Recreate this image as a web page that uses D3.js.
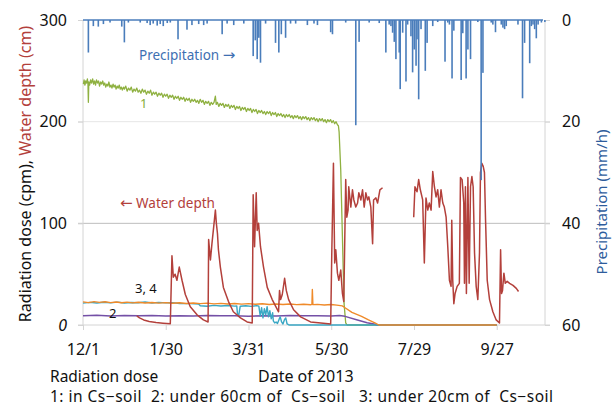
<!DOCTYPE html>
<html>
<head>
<meta charset="utf-8">
<script src="https://cdn.jsdelivr.net/npm/d3@7"></script>
<style>
  body { margin: 0; background: #fff; }
  text { font-family: "Noto Sans", "Liberation Sans", sans-serif; }
</style>
</head>
<body>
<div id="chart"></div>
<script>
// days are counted from 2012-12-01
var startDate = Date.UTC(2012, 11, 1);
var endDate = Date.UTC(2013, 10, 1);
var dateTicks = [0, 60, 120, 180, 240, 300];
var dateLabels = ["12/1", "1/30", "3/31", "5/30", "7/29", "9/27"];
var leftTicks = [0, 100, 200, 300];
var rightTicks = [0, 20, 40, 60];

// precipitation (mm/h): [day, value]
var precipitation = [
  [3.9,6.4],[7.5,1.2],[11.1,1.3],[14.8,0.8],[19.6,0.5],[28.1,1.3],[30,4.4],[32.9,0.5],[41.5,0.5],
  [46.5,0.6],[48.7,1.0],[50.9,0.7],[53.8,1.1],[56,0.8],[58.2,1.2],[61.1,0.6],[63.3,0.5],[68.9,3.8],
  [75.4,1.9],[79,1.0],[83.9,0.8],[87.5,1.0],[90,0.7],[100.9,2.8],[104.5,0.7],[109.3,1.0],[116.6,0.7],
  [123.4,7.1],[124.9,4.0],[126.3,7.7],[127.5,3.5],[128.7,8.4],[132.4,0.7],[139.6,4.5],[142,6.4],
  [143.8,2.8],[146.9,3.5],[150.5,0.7],[154.2,0.7],[162.7,1.0],[167.5,0.7],[170,1.0],[179.6,2.4],
  [180.9,2.8],[190.5,0.5],[197.8,20.7],[200.2,4.3],[207.5,0.5],[214.8,0.6],[219.6,6.4],[222,0.9],
  [223.3,1.2],[224.5,2.5],[225.7,4.3],[226.9,7.7],[229.3,6.4],[230,13.6],[231.8,2.5],[234.2,12.1],
  [235.4,0.9],[237.8,3.2],[239,10.3],[240.2,5.8],[241.5,9.0],[242.2,3.8],[243.4,15.6],[245.1,1.8],
  [248.2,10.0],[249.5,4.5],[253.6,1.2],[257.2,0.4],[262.5,8.2],[264.5,0.5],[265.7,0.9],[267.6,11.5],
  [268.9,2.1],[274.2,11.8],[275.4,2.6],[277.8,11.5],[279.1,5.8],[281,7.7],[286.3,0.4],[288.7,31.5],
  [290,10.4],[296,0.5],[297.2,0.9],[299.1,2.4],[303.3,0.9],[304.5,1.5],[305.7,1.8],[306.9,1.2],
  [315.4,0.9],[318.7,15.4],[320.2,4.5],[323.9,8.5],[325.1,1.2],[326.3,0.9],[327.5,1.8],[328.7,3.6],
  [330,0.9],[332.4,0.5],[334.9,0.4]
];

// 1: in Cs-soil (cpm)
var dose1 = [
  [0.3,237],[0.8,241],[1.4,236],[2,240],[2.6,238],[3.2,242],[3.6,237],[3.9,219],[4.2,239],[4.8,236],
  [5.5,241],[6.2,238],[7,242],[7.7,237],[8.4,240],[9.1,236],[9.8,241],[10.6,238],[11.3,240],[12,235],
  [12.8,239],[13.5,237],[14.3,240],[15,236],[15.8,238],[16.5,234],[17.3,237],[18,235],[18.8,239],
  [19.5,234],[20.3,236],[21,233],[21.8,237],[22.5,234],[23.3,236],[24,232],[24.8,235],[25.5,233],
  [26.3,236],[27,232],[27.8,234],[28.5,231],[29.3,234],[30,232],[31,235],[32,230],[33,233],[34,231],
  [35,234],[36,229],[37,232],[38,230],[39,233],[40,229],[41,231],[42,228],[43,232],[44,229],[45,231],
  [46,227],[47,230],[48,228],[49,231],[50,226],[51,229],[52,227],[53,229],[54,225],[55,228],[56,226],
  [57,228],[58,224],[59,227],[60,225],[61,227],[62,223],[63,226],[64,224],[65,226],[66,222],[67,225],
  [68,223],[69,225],[70,221],[71,224],[72,222],[73,224],[74,220],[75,223],[76,221],[77,223],[78,219],
  [79,222],[80,220],[81,222],[82,219],[83,221],[84,218],[85,222],[86,219],[87,221],[88,217],[89,220],
  [90,218],[91,220],[92,216],[93,219],[94,217],[95,219],[96,225],[96.6,217],[97.5,219],[98.5,215],
  [99.5,218],[100.5,216],[101.5,218],[102.5,214],[103.5,217],[104.5,215],[105.5,217],[106.5,213],
  [107.5,216],[108.5,214],[109.5,216],[110.5,212],[111.5,215],[112.5,213],[113.5,215],[114.5,211],
  [115.5,214],[116.5,212],[117.5,214],[118.5,210],[119.5,213],[120.5,211],[121.5,213],[122.5,209],
  [123.5,212],[124.5,210],[125.5,212],[126.5,208],[127.5,211],[128.5,209],[129.5,211],[130.5,208],
  [131.5,210],[132.5,207],[133.5,210],[134.5,208],[135.5,210],[136.5,206],[137.5,209],[138.5,207],
  [139.5,209],[140.5,205],[141.5,208],[142.5,206],[143.5,208],[144.5,205],[145.5,207],[146.5,204],
  [147.5,207],[148.5,205],[149.5,207],[150.5,204],[151.5,206],[152.5,203],[153.5,206],[154.5,204],
  [155.5,206],[156.5,203],[157.5,205],[158.5,202],[159.5,205],[160.5,203],[161.5,205],[162.5,202],
  [163.5,204],[164.5,201],[165.5,204],[166.5,202],[167.5,204],[168.5,201],[169.5,203],[170.5,200],
  [171.5,203],[172.5,201],[173.5,203],[174.5,200],[175.5,202],[176.5,199],[177.5,202],[178.5,200],
  [179.5,202],[180.5,199],[181.5,201],[182.5,198],[183.5,200],[184.5,197],[185.2,196],[185.7,190],
  [186.9,152],[188.1,87],[189.3,21],[190.5,2],[191.5,0],[300,0]
];

// 2: under 60cm of Cs-soil
var dose2 = [
  [0,9],[10,9.5],[20,8.8],[30,9.3],[40,9],[50,9.4],[60,8.9],[70,9.2],[80,8.8],[90,9.3],[100,9],
  [110,9.2],[120,8.7],[130,9.1],[140,8.9],[150,9.3],[160,9],[170,9.2],[180,8.8],[186,9.3],[190,8.5],
  [199,5],[206,2.3],[211,1],[213,0],[300,0]
];

// 3: under 20cm of Cs-soil
var dose3 = [
  [0,21.5],[5,22.3],[10,21.6],[15,22.4],[20,21.8],[25,22.5],[30,21.7],[35,22.2],[40,21.9],[45,22.6],
  [50,21.7],[55,22.3],[60,21.8],[65,22],[70,21.2],[78,21],[84,20.5],[85,19],[90,18.5],[95,19.3],
  [100,18.7],[105,19.2],[110,18.6],[111.5,18.8],[112,11],[113,10],[114,18.5],[118,19],[122,18.3],
  [126,19.1],[127.5,18.5],[128.5,9],[129.5,17],[130.5,7],[131.5,16],[132.5,10],[133.5,18],[134.5,8],
  [135.5,14],[136.5,6],[137.5,12],[138,4],[139,2],[140,3],[141,1.5],[142.3,6],[143,8],[144,3],[145,1],
  [146,5],[147,7],[148,1],[149,0.3],[150,0],[300,0]
];

// 4
var dose4 = [
  [0,22.8],[4,22],[8,23],[12,22.2],[16,22.9],[20,22],[24,22.6],[28,21.9],[32,22.5],[36,21.8],[40,22.4],
  [45,21.7],[50,22.2],[55,21.5],[60,22],[65,21.4],[70,21.9],[75,21.2],[80,21.6],[85,21],[90,21.5],
  [95,20.8],[100,21.3],[105,20.7],[110,21.1],[115,20.5],[120,21],[125,20.4],[130,20.9],[135,20.2],
  [140,20.7],[145,20.1],[150,20.6],[155,20],[160,20.4],[165,19.9],[166,20.3],[166.3,35],[166.7,20],
  [170,20.3],[175,19.7],[180,20.1],[184,19.6],[188,18.8],[190,17],[195,12.5],[202,8.5],[207,5],
  [212,1.8],[214.5,0],[300,0]
];

// water depth (cm), two logging periods
var waterDepthA = [
  [39,9],[41,7],[44,5],[48,3.5],[53,2.5],[58,1.8],[63.3,1.2],[64.5,68],[65.5,47],[66.8,50],[68.1,44],
  [69.8,57],[71.8,44],[74.2,30],[77.8,18],[82.7,10],[87.3,5],[90.7,3],[91.1,84],[92.4,64],[93.5,80],
  [94.8,97],[96,113],[96.7,100],[97.5,90],[98.2,74],[99.6,57],[101.8,37],[105.5,23],[109,13],
  [114.2,7],[119,3],[122.7,2],[123.4,128],[124.4,77],[125.6,130],[126.3,93],[127.3,100],[128.7,77],
  [130.9,57],[133.6,37],[137.2,25],[141.8,13],[142.5,34],[143.3,25],[144.5,30],[146.2,46],[147.4,34],
  [149.1,25],[152.7,15],[157.8,8],[165,3],[172.4,2],[179.6,1],[180.4,71],[181.6,159],[182.5,61],
  [183.3,74],[184.5,51],[185.5,44],[186.9,54],[188.1,31],[189.1,23],[190.5,143],[191.3,106],
  [192.2,113],[192.7,136],[194.2,116],[195.4,133],[196.4,123],[197.8,116],[199.1,120],[200,130],
  [201.5,123],[202.7,133],[203.9,116],[205.1,130],[206.3,123],[207.3,126],[208.7,116],[210,80],
  [210.7,123],[212.4,125],[213.6,120],[215.3,133],[217.2,135]
];
var waterDepthB = [
  [239.8,106],[240.7,136],[242.2,131],[243.4,143],[244.6,133],[246.3,123],[247.5,61],[248.7,125],
  [250,113],[251.1,120],[252.4,113],[253.6,151],[254.8,136],[256,126],[257.2,133],[258.4,116],
  [259.6,133],[260.9,120],[262,116],[263.3,106],[264.5,77],[265.7,44],[266.9,38],[267.4,103],
  [268.1,44],[268.9,21],[269.8,31],[271.3,38],[272.9,41],[273.7,145],[274.9,143],[276.1,120],
  [276.6,41],[277.3,136],[278,31],[279.1,145],[280,41],[281,136],[282,146],[282.9,136],[283.9,71],
  [285.1,38],[286.3,25],[287.5,71],[288.2,150],[289.2,159],[290.2,156],[291.1,150],[291.9,103],
  [293.1,44],[294.8,25],[297.2,13],[299.6,5],[302,2],[302.8,74],[303.5,31],[304.2,34],[305.2,51],
  [306.2,41],[307.6,43],[309.3,41],[311.8,39],[314.2,36],[315.8,33]
];

var width = 613, height = 406;
var plot = {left: 83, right: 545, top: 20, bottom: 325};

var svg = d3.select("#chart").append("svg")
  .attr("width", width)
  .attr("height", height)
  .style("display", "block");

var day = d => new Date(startDate + d * 864e5);

var x = d3.scaleUtc().domain([new Date(startDate), new Date(endDate)]).range([plot.left, plot.right]);
var yL = d3.scaleLinear().domain([0, 300]).range([plot.bottom, plot.top]);
var yR = d3.scaleLinear().domain([0, 60]).range([plot.top, plot.bottom]);

// gridlines
svg.append("line")
  .attr("x1", plot.left - 5).attr("x2", plot.right + 5)
  .attr("y1", yL(200)).attr("y2", yL(200))
  .attr("stroke", "#e6e6e6");
svg.append("line")
  .attr("x1", plot.left - 5).attr("x2", plot.right + 5)
  .attr("y1", yL(100)).attr("y2", yL(100))
  .attr("stroke", "#bdbdbd");

// axis frames
svg.append("line").attr("x1", plot.left).attr("x2", plot.left)
  .attr("y1", plot.top).attr("y2", plot.bottom).attr("stroke", "#d4d4d4");
svg.append("line").attr("x1", plot.right).attr("x2", plot.right)
  .attr("y1", plot.top).attr("y2", plot.bottom).attr("stroke", "#d4d4d4");
svg.append("line").attr("x1", plot.left - 5).attr("x2", plot.right + 5)
  .attr("y1", plot.bottom).attr("y2", plot.bottom).attr("stroke", "#d4d4d4");

// x axis
var xAxis = d3.axisBottom(x)
  .tickValues(dateTicks.map(day))
  .tickFormat((d, i) => dateLabels[i])
  .tickSize(5).tickPadding(14);
var gx = svg.append("g").attr("transform", `translate(0,${plot.bottom})`).call(xAxis);
gx.select(".domain").remove();
gx.selectAll(".tick line").attr("stroke", "#d4d4d4");
gx.selectAll("text").attr("font-size", "16px").attr("fill", "#111").style("font-family", "'Noto Sans'");

// left axis
var gl = svg.append("g").attr("transform", `translate(${plot.left},0)`)
  .call(d3.axisLeft(yL).tickValues(leftTicks).tickSize(5).tickPadding(11));
gl.select(".domain").remove();
gl.selectAll(".tick line").attr("stroke", "#d4d4d4");
gl.selectAll("text").attr("font-size", "16px").attr("fill", "#111")
  .style("font-style", d => d === 0 ? "italic" : "normal");

// right axis
var gr = svg.append("g").attr("transform", `translate(${plot.right},0)`)
  .call(d3.axisRight(yR).tickValues(rightTicks).tickSize(5).tickPadding(12));
gr.select(".domain").remove();
gr.selectAll(".tick line").attr("stroke", "#d4d4d4");
gr.selectAll("text").attr("font-size", "16px").attr("fill", "#111");

var line = d3.line().x(d => x(day(d[0]))).y(d => yL(d[1]));

function drawSeries(data, color, w) {
  svg.append("path")
    .datum(data)
    .attr("fill", "none")
    .attr("stroke", color)
    .attr("stroke-width", w)
    .attr("stroke-linejoin", "round")
    .attr("d", line);
}

drawSeries(dose1, "#8fb141", 1.3);
drawSeries(dose2, "#7450a6", 1.5);
drawSeries(dose3, "#3aa7c4", 1.4);
drawSeries(dose4, "#ef8a2a", 1.4);
drawSeries(waterDepthA, "#b3403b", 1.5);
drawSeries(waterDepthB, "#b3403b", 1.5);

// precipitation hanging from the top
svg.append("line")
  .attr("x1", plot.left).attr("x2", plot.right - 2)
  .attr("y1", yR(0)).attr("y2", yR(0))
  .attr("stroke", "#4a7dbb").attr("stroke-width", 1.5);
svg.append("g").selectAll("rect")
  .data(precipitation)
  .enter().append("rect")
  .attr("x", d => x(day(d[0])) - 0.8)
  .attr("width", 1.6)
  .attr("y", yR(0))
  .attr("height", d => yR(d[1]) - yR(0))
  .attr("fill", "#4a7dbb");

// annotations
var pt = svg.append("text").attr("x", 139).attr("y", 60)
  .attr("font-size", "13.5px").attr("fill", "#3e6fb2");
pt.append("tspan").text("Precipitation ");
pt.append("tspan").text("\u2192").style("font-family", "'DejaVu Sans'").attr("font-size", "15px");

svg.append("text").attr("x", 140).attr("y", 108).text("1")
  .attr("font-size", "13px").attr("fill", "#86ac3a");

var wt = svg.append("text").attr("x", 120).attr("y", 208)
  .attr("font-size", "13.5px").attr("fill", "#b3403b");
wt.append("tspan").text("\u2190").style("font-family", "'DejaVu Sans'").attr("font-size", "15px");
wt.append("tspan").text(" Water depth");

svg.append("text").attr("x", 135).attr("y", 293).text("3, 4")
  .attr("font-size", "13px").attr("fill", "#111");
svg.append("text").attr("x", 109).attr("y", 318).text("2")
  .attr("font-size", "13px").attr("fill", "#111");

// axis titles
var lt = svg.append("text")
  .attr("transform", "translate(31,174) rotate(-90)")
  .attr("text-anchor", "middle")
  .attr("font-size", "16px");
lt.append("tspan").text("Radiation dose (cpm),  ").attr("fill", "#111");
lt.append("tspan").text("Water depth (cm)").attr("fill", "#b3403b");

svg.append("text")
  .attr("transform", "translate(607,202) rotate(-90)")
  .attr("text-anchor", "middle")
  .attr("font-size", "15px")
  .attr("fill", "#2e5c9c")
  .text("Precipitation (mm/h)");

svg.append("text").attr("x", 50).attr("y", 382).text("Radiation dose")
  .attr("font-size", "15.5px").attr("fill", "#111");
svg.append("text").attr("x", 258).attr("y", 382).text("Date of 2013")
  .attr("font-size", "16px").attr("fill", "#111");
svg.append("text").attr("x", 50).attr("y", 402)
  .attr("xml:space", "preserve")
  .style("white-space", "pre")
  .attr("textLength", 503)
  .attr("lengthAdjust", "spacing")
  .text("1: in Cs\u2212soil  2: under 60cm of  Cs\u2212soil   3: under 20cm of  Cs\u2212soil")
  .attr("font-size", "15.5px").attr("fill", "#111");
</script>
</body>
</html>
